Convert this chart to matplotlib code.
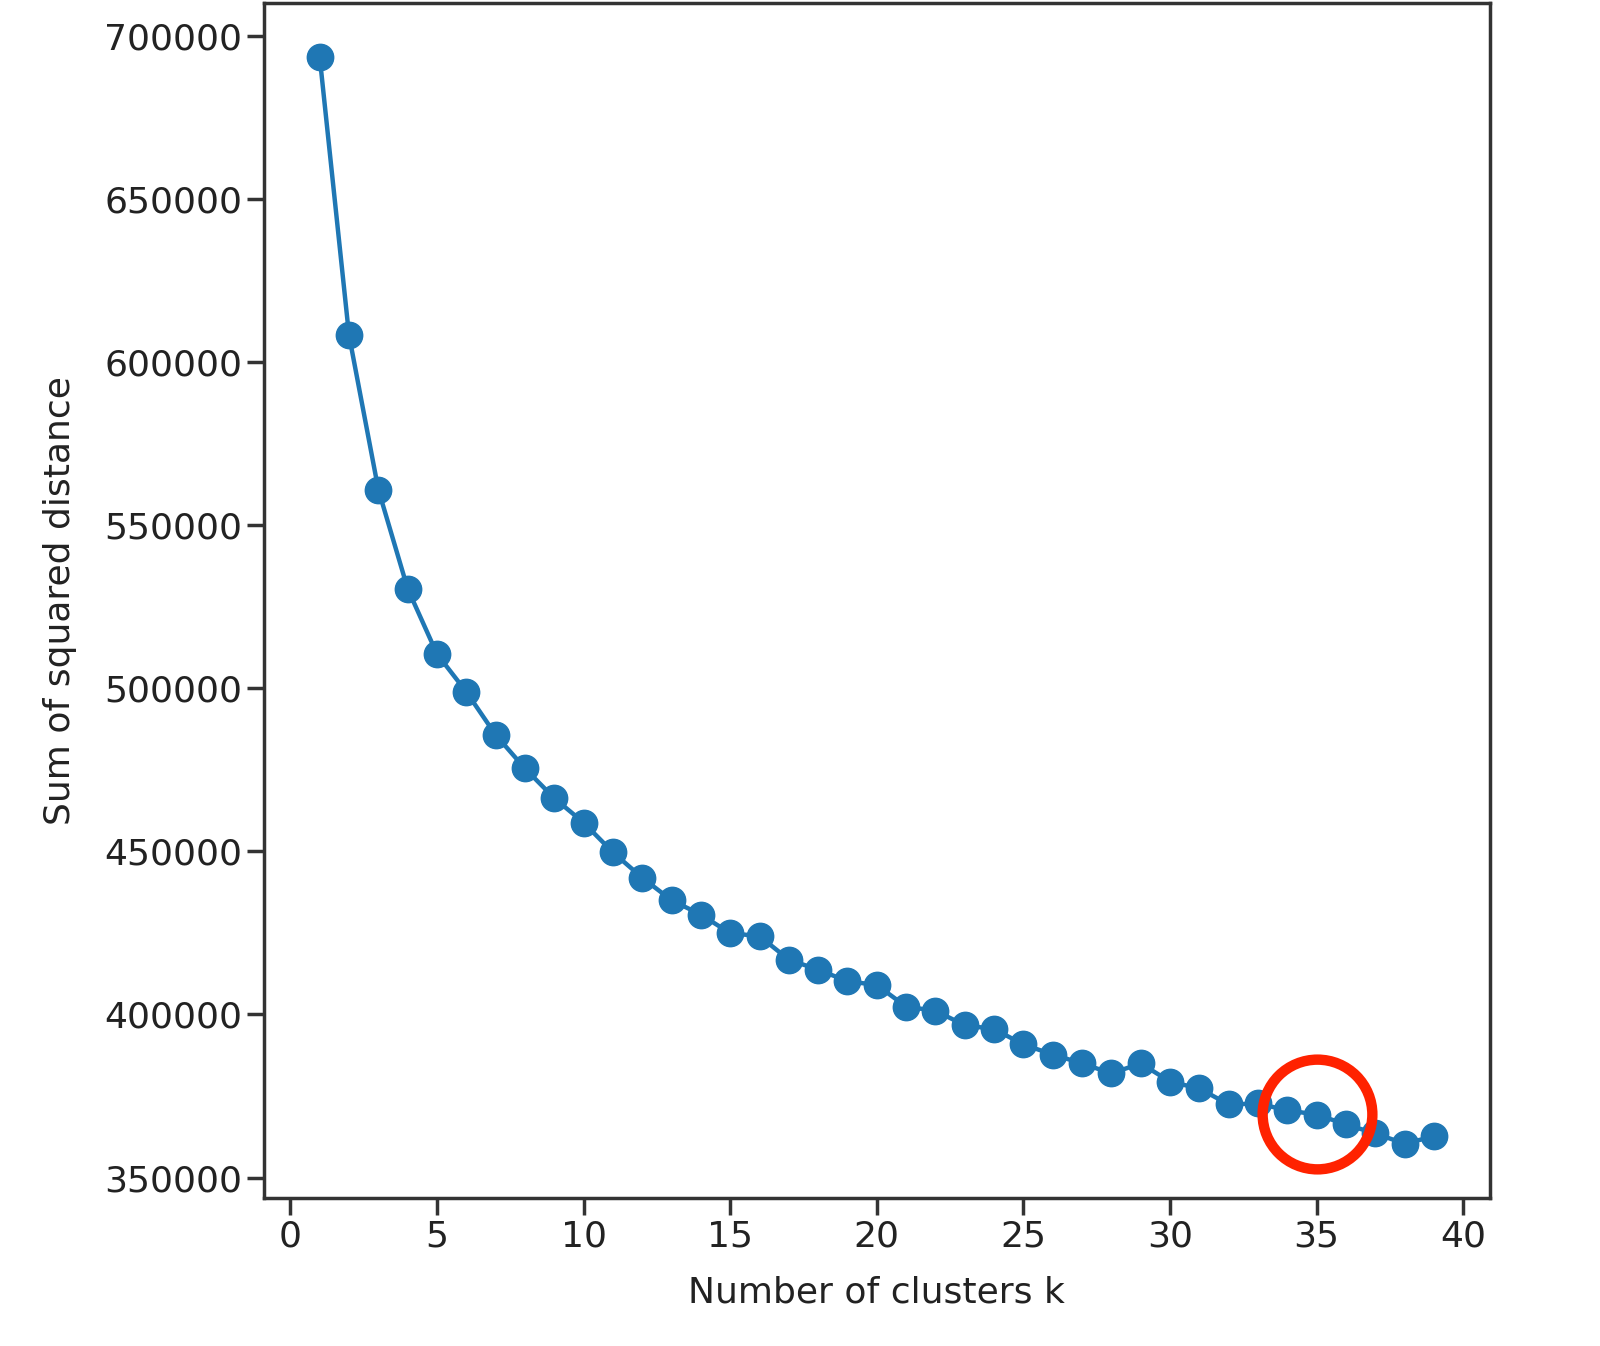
import matplotlib
matplotlib.use("Agg")
import matplotlib.pyplot as plt

# elbow curve
k_values = list(range(1, 40))
sse = [693500, 608200, 560900, 530500, 510500, 498900, 485700, 475400, 466300,
       458800, 449700, 441900, 435000, 430600, 424900, 424000, 416800, 413700,
       410200, 409000, 402400, 401100, 396700, 395500, 390800, 387700, 385000,
       381900, 385000, 379400, 377300, 372400, 372700, 370600, 369300, 366300,
       363500, 360400, 362600]

# highlighted choice
best_k = 35
best_sse = 369600

fig = plt.figure(figsize=(16, 13.46), dpi=100)
ax = fig.add_axes([0.165, 0.11, 0.766, 0.888])

ax.plot(k_values, sse, marker='o', color='#1f77b4', linewidth=3.2, markersize=19)
ax.plot([best_k], [best_sse], marker='o', markersize=79, markerfacecolor='none',
        markeredgecolor='#ff2200', markeredgewidth=7.5, linestyle='none')

ax.set_xlabel('Number of clusters k', fontsize=26, color='#222222', labelpad=16)
ax.set_ylabel('Sum of squared distance', fontsize=26, color='#222222', labelpad=20)
ax.set_xticks(range(0, 41, 5))
ax.set_yticks(range(350000, 700001, 50000))
ax.tick_params(labelsize=26, length=12, width=2.5, colors='#333333', labelcolor='#222222')
for s in ax.spines.values():
    s.set_linewidth(2.5)
    s.set_color('#333333')

fig.savefig('out.png', dpi=100)
